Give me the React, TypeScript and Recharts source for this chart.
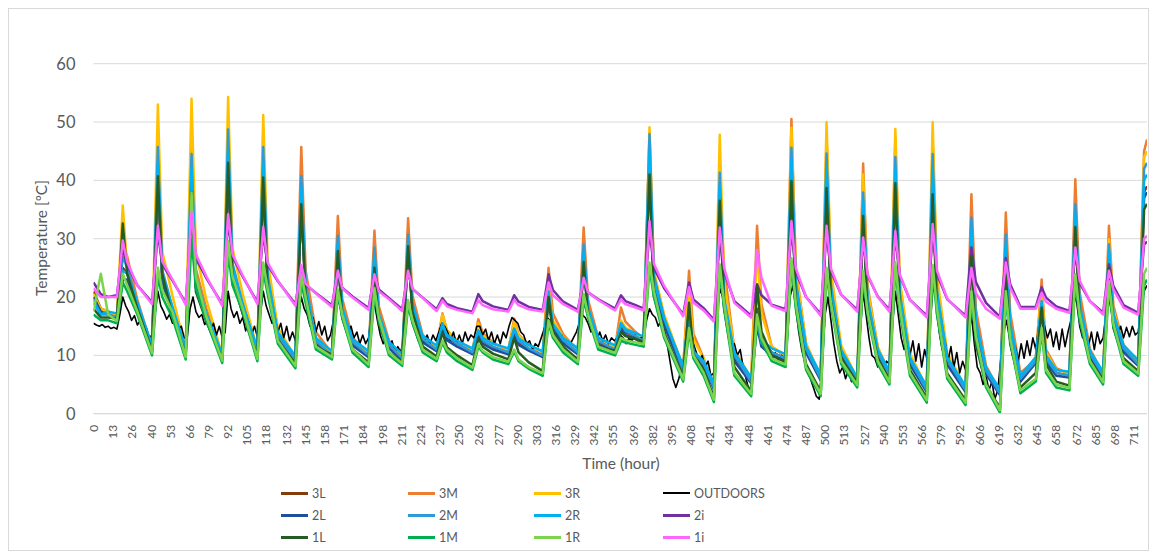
import { CartesianGrid, Line, LineChart, XAxis, YAxis } from 'recharts'

// Key hours of the sampled room series: start, then per day trough / peak / +3h / +10h.
const HOURS = [
  0, 5, 10,
  16, 20, 23, 30,
  40, 44, 47, 54,
  63, 67, 70, 77,
  88, 92, 95, 102,
  112, 116, 119, 126,
  138, 142, 145, 152,
  163, 167, 170, 177,
  188, 192, 195, 202,
  211, 215, 218, 225,
  234.5, 238.5, 241.5, 248.5,
  259, 263, 266, 273,
  283.5, 287.5, 290.5, 297.5,
  307, 311, 314, 321,
  331, 335, 338, 345,
  356.5, 360.5, 363.5, 370.5,
  376, 380, 383, 390,
  403, 407, 410, 417,
  424, 428, 431, 438,
  449.5, 453.5, 456.5, 463.5,
  473, 477, 480, 487,
  497, 501, 504, 511,
  522, 526, 529, 536,
  544, 548, 551, 558,
  569.5, 573.5, 576.5, 583.5,
  596, 600, 603, 610,
  619.5, 623.5, 626.5, 633.5,
  644, 648, 651, 658,
  667, 671, 674, 681,
  690, 694, 697, 704,
  714, 718, 720,
]

const T_3L = [
  21, 18, 17.5,
  16.5, 25, 24, 18.5, 11, 42, 23.1, 17.4, 10.5, 40, 21.7, 16.3, 9.5, 42, 23.1, 17.4,
  10.5, 40, 21.5, 12.9, 9.2, 36, 20.4, 12, 10, 27, 16.8, 12, 10, 26, 16.1, 11.5,
  9.5, 28, 17.8, 12.5, 11, 15, 13, 12, 10.5, 14, 12.5, 11.4, 10.5, 14, 12.2, 11,
  10, 20, 14.8, 12.4, 10.5, 26, 17, 12.2, 11, 15, 14, 13.2, 12.5, 43, 21.7, 15.3,
  7.5, 18, 10.6, 8.5, 4.5, 38, 18.5, 9.5, 5.5, 18, 12.9, 10.5, 9.5, 43, 21.5, 10.8,
  6, 42, 20.9, 10.2, 5.5, 36, 18.9, 10.4, 6.5, 41, 19.5, 8.8, 4, 41, 19.5, 9.3,
  4, 30, 14.6, 7.5, 3.5, 28, 14.5, 6, 9, 19, 9.5, 7, 6.5, 33, 17.6, 10.3,
  6.5, 27, 16.3, 10.8, 8.5, 38, 39,
]
const T_3M = [
  20, 18, 17.5,
  16.8, 29, 27, 19.5, 11.3, 40, 22.5, 17.2, 10.8, 47.3, 24.8, 18.1, 9.8, 43, 23.7, 17.9,
  10.8, 43, 22.9, 13.5, 9.5, 45.7, 24.5, 14, 10.3, 33.9, 19.7, 13, 10.3, 31.4, 18.4, 12.5,
  9.8, 33.5, 20.2, 13.5, 11.3, 17.2, 14.3, 12.5, 10.8, 16.2, 13.8, 12.2, 10.8, 16.3, 13.6, 11.8,
  10.3, 25, 17.2, 13.6, 10.8, 31.9, 19.5, 13, 11.3, 18.2, 15.8, 14, 12.8, 48.2, 24, 16.7,
  7.8, 24.5, 13.7, 9.5, 4.8, 38.7, 25, 11, 5.8, 32.2, 18.8, 11.5, 9.8, 50.5, 24.9, 12,
  6.3, 47.5, 23.3, 11.2, 5.8, 42.9, 22, 11.4, 6.8, 47.3, 22.4, 9.9, 4.3, 46.7, 22.1, 9.8,
  4.3, 37.6, 18, 8.2, 3.8, 34.5, 17.3, 7, 9.3, 23, 11, 7.8, 6.8, 40.2, 20.8, 11.1,
  6.8, 32.2, 18.6, 11.8, 8.8, 45, 47,
]
const T_3R = [
  20.5, 18, 17.5,
  17, 35.7, 25, 19, 11.5, 53, 27.8, 20.2, 11, 54, 27.6, 19.7, 10, 54.3, 28.3, 20.5,
  11, 51.2, 26.3, 14.7, 9.7, 38, 21.5, 13, 10.5, 28, 17.5, 12.5, 10.5, 27, 16.8, 12,
  10, 29, 18.5, 13, 11.5, 17, 14.3, 12.5, 11, 15.5, 13.5, 12, 11, 15.8, 13.4, 11.8,
  10.5, 22, 16, 13.2, 11, 27, 17.7, 12.5, 11.5, 16, 14.8, 13.6, 13, 49.1, 24.4, 17,
  8, 22, 12.7, 9.5, 5, 47.8, 22.7, 11, 6, 28, 17.2, 11.5, 10, 49, 24.4, 12,
  6.5, 50, 24.5, 11.7, 6, 41, 21.3, 11.4, 7, 48.8, 23.1, 10.3, 4.5, 50, 23.6, 10.4,
  4.5, 32, 15.8, 7.6, 4, 29, 15.1, 6.5, 9.5, 21.5, 10.5, 7.5, 7, 34, 18.3, 10.5,
  7, 29.9, 17.8, 11.5, 9, 44, 45,
]
const T_2L = [
  20, 17.5, 17,
  16.2, 23, 23, 18, 10.7, 41, 22.5, 17, 10.2, 40, 21.5, 16, 9.2, 42, 22.9, 17.2,
  10.2, 40, 21.3, 12.6, 8.9, 36, 20.2, 11.8, 9.7, 27, 16.6, 11.7, 9.7, 26, 15.9, 11.2,
  9.2, 28, 17.6, 12.2, 10.7, 14.5, 12.6, 11.5, 10.2, 13.5, 12, 11, 10.2, 13.5, 11.8, 10.8,
  9.7, 19.5, 14.4, 12, 10.2, 26, 16.8, 11.8, 10.7, 14.5, 13.5, 12.8, 12.2, 43, 21.5, 15.1,
  7.2, 16.5, 9.7, 8, 4.2, 37, 17.9, 9, 5.2, 15, 11.5, 10, 9.2, 42, 20.9, 10.4,
  5.7, 41, 20.2, 9.9, 5.2, 35, 18.3, 10, 6.2, 40, 18.9, 8.4, 3.7, 40, 18.9, 8.4,
  3.7, 30, 14.5, 6.8, 3.2, 27.5, 14, 5.5, 8.7, 18.5, 9, 6.5, 6.2, 32, 17, 9.8,
  6.2, 26.5, 15.9, 10.5, 8.2, 37, 38,
]
const T_2M = [
  19.5, 17, 17,
  16.5, 27, 25, 19, 11, 45.7, 24.6, 18.2, 10.5, 44.5, 23.5, 17.2, 9.5, 48.7, 25.8, 18.9,
  10.5, 45.7, 23.8, 13.5, 9.2, 40.7, 22.3, 12.5, 10, 30.5, 18.2, 12.3, 10, 28.5, 17.1, 11.8,
  9.5, 30.7, 18.9, 12.8, 11, 15.5, 13.3, 12, 10.5, 14.2, 12.6, 11.5, 10.5, 14.5, 12.5, 11.2,
  10, 21, 15.2, 12.6, 10.5, 29, 18.2, 12.5, 11, 15.5, 14.2, 13.3, 12.5, 47.9, 23.7, 16.4,
  7.5, 18, 10.6, 8.5, 4.5, 41.3, 19.8, 10, 5.5, 16, 12.1, 10.5, 9.5, 45.6, 22.6, 11.1,
  6, 44.6, 21.9, 10.6, 5.5, 37.9, 19.7, 10.6, 6.5, 44, 20.8, 9.2, 4, 44.5, 21, 9.3,
  4, 33.6, 16.1, 7.4, 3.5, 30.7, 15.5, 6, 9, 19.3, 9.5, 7, 6.5, 35.9, 18.8, 10.3,
  6.5, 29, 17.1, 11.2, 8.5, 42, 43,
]
const T_2R = [
  19, 17, 17.5,
  17.2, 24.5, 24, 19, 11.7, 43, 23.9, 18.2, 11.2, 42, 22.9, 17.2, 10.2, 45, 24.7, 18.6,
  11.2, 43, 23.1, 13.9, 9.9, 38.5, 21.8, 13, 10.7, 29, 18, 12.8, 10.7, 27, 16.9, 12.3,
  10.2, 29, 18.6, 13.3, 11.7, 15.3, 13.5, 12.5, 11.2, 14.3, 13, 12, 11.2, 14.6, 12.9, 11.8,
  10.7, 20.5, 15.4, 13, 11.2, 27.5, 18, 13, 11.7, 15.5, 14.5, 13.8, 13.2, 45, 22.9, 16.3,
  8.2, 17.5, 10.7, 9, 5.2, 39, 19.3, 10.5, 6.2, 16.5, 12.7, 11.2, 10.2, 43.5, 22.2, 11.5,
  6.7, 42.5, 21.4, 10.9, 6.2, 36.5, 19.5, 11, 7.2, 42, 20.4, 9.6, 4.7, 42, 20.4, 9.6,
  4.7, 31.5, 15.7, 7.8, 4.2, 29, 15.2, 6.5, 9.7, 19, 10, 7.5, 7.2, 34, 18.5, 10.7,
  7.2, 28, 17.1, 11.7, 9.2, 40, 41,
]
const T_2i = [
  22.5, 20.5, 20,
  20.3, 28.5, 25.5, 22, 19.1, 31, 25.6, 22.8, 19, 33, 26.6, 23.3, 18.8, 33, 26.9, 23.5,
  19.1, 31, 25.5, 22.7, 18.8, 25, 22.1, 20.7, 18.6, 24.5, 21.6, 20.1, 18.1, 24, 21.3, 19.8,
  17.9, 24.3, 21.4, 19.9, 17.9, 19.8, 18.8, 18.1, 17.5, 20.5, 19.3, 18.4, 17.8, 20.3, 19.2, 18.3,
  17.8, 23.9, 21.2, 19.2, 17.8, 23, 20.8, 19.6, 18, 20.3, 19.3, 18.6, 18, 31.5, 25, 21.5,
  17, 22.5, 19.6, 18.1, 16.1, 30.5, 24.3, 19.3, 16.8, 22.2, 20.3, 18.7, 17.9, 31.5, 24.3, 20,
  17.1, 31, 24.4, 20.4, 17.8, 29.5, 23.7, 20.1, 17.8, 30.5, 23.7, 19.5, 16.8, 31, 23.9, 19.6,
  16.8, 28.5, 22.6, 19, 16.6, 26.7, 22.2, 18.3, 18.3, 21.7, 19.9, 18.4, 17.6, 27.5, 22.4, 19.3,
  17.3, 25.6, 21.9, 18.6, 17.3, 29, 29.5,
]
const T_1L = [
  18, 16.5, 16.5,
  16.3, 32.6, 24, 18, 10.8, 40.7, 23.9, 16.8, 10.1, 38, 20.9, 15.9, 9.5, 43, 23.1, 17.1,
  9.8, 40.5, 21.4, 12.4, 8.6, 35.9, 20.4, 11.5, 10.1, 27.9, 16.4, 11, 8.8, 25, 15.4, 10.5,
  9, 28.7, 17.4, 11.5, 9.8, 14, 11.4, 10, 8.3, 13, 11.5, 10.3, 9.3, 13, 10.5, 8.8,
  7.3, 20, 14.1, 11.5, 9.3, 26, 16.9, 11.5, 10.8, 14, 13.3, 12.8, 12.3, 41, 20.2, 13.9,
  6.3, 19, 10.1, 7.5, 2.8, 36.5, 18.5, 8, 3.8, 22, 14.1, 10, 8.8, 39.9, 19, 8.5,
  3.8, 38.7, 19.3, 9.6, 5.3, 33.9, 17.6, 9.5, 5.8, 39.5, 18.2, 7.5, 2.7, 37.6, 17.1, 6.9,
  2.3, 27, 11.9, 4.9, 1, 24, 12, 4.5, 7, 18.2, 8.5, 5.5, 4.8, 32, 16.8, 9.2,
  5.8, 25, 14.7, 9.5, 7.3, 35, 36,
]
const T_1M = [
  17, 16, 16,
  15.5, 22.5, 21, 17, 10, 23.5, 20, 16.4, 9.3, 30, 21.5, 16, 8.7, 27.5, 22, 17.5,
  9, 24.5, 20.5, 12, 7.8, 22.5, 19, 11, 9.3, 20.5, 16.5, 10.5, 8, 20.5, 16, 10,
  8.2, 18.5, 15.5, 10.5, 9, 12.2, 10.5, 9, 7.5, 11.5, 10.5, 9.3, 8.5, 10.7, 9, 7.7,
  6.5, 15.5, 13, 10.5, 8.5, 19.5, 16.5, 11, 10, 12.5, 12.2, 11.8, 11.5, 25, 20, 13,
  5.5, 14, 9.5, 6.5, 2, 24.5, 18, 6.5, 3, 16.5, 12.5, 9, 8, 25.5, 18, 7.5,
  3, 24, 18.5, 8.5, 4.5, 23.5, 17, 8.5, 5, 25, 17.5, 6.5, 1.9, 24.5, 17, 6,
  1.5, 20, 13, 4.5, 0.2, 20, 12.5, 3.5, 5.5, 14, 7, 4.5, 4, 23, 16, 8.5,
  5, 22, 15, 8.5, 6.5, 22, 23,
]
const T_1R = [
  17.5, 24, 17,
  15.9, 24, 22, 17.5, 10.4, 25, 21.2, 17.4, 9.7, 37.9, 23.5, 16.7, 9.1, 29.6, 23.5, 18,
  9.4, 25.9, 21.5, 12.5, 8.2, 23.9, 20, 11.5, 9.7, 21.3, 17, 11, 8.4, 21.5, 16.5, 10.5,
  8.6, 19.5, 16, 11, 9.4, 12.5, 11, 9.5, 7.9, 11.9, 10.8, 9.7, 8.9, 11, 9.3, 8,
  6.9, 16, 13.5, 11, 8.9, 20.5, 17, 11.5, 10.4, 13, 12.6, 12.2, 11.9, 25.9, 21, 13.5,
  5.9, 14.7, 10, 7, 2.4, 25.6, 19, 7, 3.4, 17, 13, 9.5, 8.4, 26.7, 19, 8,
  3.4, 25, 19, 9, 4.9, 24.5, 17.5, 9, 5.4, 26, 18.5, 7, 2.3, 25.5, 18, 6.5,
  1.9, 21, 13.5, 5, 0.6, 21, 13, 4, 6, 14.7, 7.5, 5, 4.4, 23.9, 17, 9,
  5.4, 22.7, 15.5, 9, 6.9, 24, 25,
]
const T_1i = [
  21.5, 20, 20,
  20, 29.7, 26, 22, 18.8, 32.2, 26.1, 23, 18.7, 34.5, 27.3, 23.6, 18.5, 34.2, 27.3, 23.7,
  18.8, 32, 25.9, 22.8, 18.5, 25.5, 22.3, 20.6, 18.3, 24.5, 21.5, 19.9, 17.8, 23.9, 21, 19.6,
  17.6, 24.5, 21.4, 19.8, 17.6, 19.4, 18.4, 17.8, 17.2, 19.5, 18.6, 17.9, 17.5, 19.5, 18.6, 17.9,
  17.5, 22.5, 20.3, 18.8, 17.5, 23.3, 20.8, 19.5, 17.7, 19.6, 18.8, 18.2, 17.7, 33, 25.7, 21.9,
  16.7, 21.7, 19, 17.7, 15.8, 31.9, 25, 19, 16.5, 27.9, 23.3, 18.5, 17.6, 33, 24.9, 20,
  16.8, 32.2, 24.9, 20.4, 17.5, 30.2, 23.9, 20, 17.5, 31.3, 23.9, 19.5, 16.5, 32.5, 24.5, 19.7,
  16.5, 25, 20.7, 18, 16.3, 25.9, 21.6, 18, 18, 20.7, 19.2, 18, 17.3, 28.5, 22.8, 19.3,
  17, 24.5, 21.3, 18.2, 17, 30, 30.5,
]

// Outdoor air, one reading every 2 hours (12 per row = one day).
const OUTDOORS = [
  15.5, 15.2, 15, 15.3, 14.8, 15, 14.6, 14.8, 14.5, 17, 20, 18.5,
  17.5, 16, 16.8, 15.2, 16, 14.2, 14.8, 13, 13.5, 17, 21, 18.5,
  17.5, 16.2, 17, 15.5, 16.2, 14.5, 15, 13, 12.8, 18, 20, 17.5,
  16.5, 17, 15.3, 16, 14.2, 15.5, 13.5, 15, 13, 14, 21, 18,
  16.5, 17.5, 15.5, 16.5, 14.2, 15.8, 13.5, 15, 13.2, 17, 21, 18.5,
  17, 15.5, 16.5, 14, 15.5, 13, 15, 12.5, 14, 12.5, 17, 20,
  18, 17, 15, 16.5, 14, 15.8, 13.5, 15, 12.5, 13.5, 16, 19,
  19, 16.5, 15, 14, 15, 13, 14, 12, 13.5, 12, 13, 17,
  19, 16, 13.5, 12, 13, 11, 12.5, 10.5, 11.5, 10.5, 13, 18,
  18, 15.5, 14, 12.5, 13.5, 12, 13.5, 12, 13.5, 12.5, 14, 15.5,
  15, 14, 12.5, 14, 12, 13.5, 12, 14, 12.5, 13.5, 13, 15,
  15, 13.5, 14.5, 12.5, 14, 12, 13.5, 12, 14, 13, 15, 16.5,
  16, 15.5, 14, 13.5, 12, 12.5, 11, 12, 11.5, 13, 14.5, 16.5,
  16, 14, 14.5, 13, 13.5, 12, 12.5, 12, 13, 14, 15.5, 17,
  16.5, 15.5, 14, 14.5, 12.5, 14, 12.5, 13.5, 12, 13, 12.5, 13,
  13.5, 13, 12, 13, 12.5, 13.5, 12.5, 13, 13, 16, 18, 17,
  16.5, 15, 16, 14.5, 12, 9, 6, 4.5, 6, 8, 10, 14,
  15, 12, 10.5, 9, 10, 8, 9, 6.5, 7, 16, 21.5, 20,
  16, 13, 11.5, 12, 10, 11, 8, 6, 4, 5, 14, 17,
  14, 12, 10.5, 11, 9.5, 10.5, 9, 10, 9.5, 12, 20, 22,
  18, 14, 11, 9, 7, 6, 4.5, 3, 2.5, 8, 17, 20,
  16, 12, 9, 7, 8, 6, 7.5, 5.5, 6.5, 6, 14, 21,
  17, 13, 10, 9.5, 8, 9.5, 8, 9, 8.5, 15, 21, 17,
  13, 11, 12.5, 10, 12.5, 9, 12, 8, 11, 9, 16, 22.5,
  19, 14, 11, 12.5, 9, 11.5, 8, 10.5, 7, 9, 7.5, 13,
  17, 12, 8, 7, 5, 6.5, 4, 5.5, 2.5, 4, 9, 14,
  16, 13, 10, 11.5, 9, 12, 9.5, 12.5, 10, 13, 11, 15,
  17, 15, 13, 14.5, 11.5, 14, 11, 14.5, 11.5, 14, 16, 20.5,
  19, 15, 13, 14.5, 11.5, 14, 11, 14, 12, 13, 17, 20,
  17, 15, 13.5, 15, 13, 14.8, 13.2, 15, 13.5, 14, 18, 21,
  22,
]

const X_TICKS = [
  0, 13, 26, 40, 53, 66, 79, 92, 105, 118, 132, 145, 158, 171, 184, 198, 211, 224,
  237, 250, 263, 277, 290, 303, 316, 329, 342, 355, 369, 382, 395, 408, 421, 434,
  448, 461, 474, 487, 500, 513, 527, 540, 553, 566, 579, 592, 606, 619, 632, 645,
  658, 672, 685, 698, 711,
]
const Y_TICKS = [0, 10, 20, 30, 40, 50, 60]

// Drawing order follows the legend, so 1i ends up on top.
const SERIES = [
  { name: '3L', color: '#843C0C', values: T_3L },
  { name: '3M', color: '#ED7D31', values: T_3M },
  { name: '3R', color: '#FFC000', values: T_3R },
  { name: 'OUTDOORS', color: '#000000', values: OUTDOORS },
  { name: '2L', color: '#1F4E9A', values: T_2L },
  { name: '2M', color: '#2E9AD8', values: T_2M },
  { name: '2R', color: '#00B0F0', values: T_2R },
  { name: '2i', color: '#7030A0', values: T_2i },
  { name: '1L', color: '#265C24', values: T_1L },
  { name: '1M', color: '#00B050', values: T_1M },
  { name: '1R', color: '#7CD44E', values: T_1R },
  { name: '1i', color: '#FF66FF', values: T_1i },
]

const GREY = '#595959'
const FONT = 'Lato, "Open Sans", sans-serif'

function toRows(name: string, values: number[]) {
  if (name === 'OUTDOORS') return values.map((v, i) => ({ h: i * 2, v }))
  return values.map((v, i) => ({ h: HOURS[i], v }))
}

function XTick({ x, y, payload }: { x?: number; y?: number; payload?: { value: number } }) {
  const yy = (y ?? 0) + 3
  return (
    <text
      x={x}
      y={yy}
      transform={`rotate(-90 ${x} ${yy})`}
      textAnchor="end"
      dy="0.35em"
      fill={GREY}
      fontSize={12}
      fontFamily={FONT}
    >
      {payload?.value}
    </text>
  )
}

function Legend() {
  const cols = [272, 399, 525, 654]
  const rows = [484, 506, 528]
  return (
    <>
      {SERIES.map((s, i) => {
        const col = i % 4
        const row = Math.floor(i / 4)
        return (
          <div
            key={s.name}
            style={{
              position: 'absolute',
              left: cols[col],
              top: rows[row] - 8,
              height: 16,
              display: 'flex',
              alignItems: 'center',
              gap: 4,
              fontSize: 12.5,
              color: GREY,
            }}
          >
            <span
              style={{
                display: 'inline-block',
                width: 27,
                height: s.name === 'OUTDOORS' ? 1.5 : 3,
                backgroundColor: s.color,
              }}
            />
            <span>{s.name}</span>
          </div>
        )
      })}
    </>
  )
}

export default function App() {
  return (
    <div
      style={{
        position: 'relative',
        width: 1141,
        height: 543,
        border: '1px solid #D9D9D9',
        boxSizing: 'border-box',
        fontFamily: FONT,
        background: '#FFFFFF',
      }}
    >
      <LineChart
        width={1140}
        height={480}
        margin={{ top: 54.7, right: 2, bottom: 25.3, left: 24.5 }}
      >
        <CartesianGrid vertical={false} stroke="#D9D9D9" />
        <XAxis
          dataKey="h"
          type="number"
          domain={[0, 720]}
          ticks={X_TICKS}
          interval={0}
          height={50}
          tick={<XTick />}
          tickLine={false}
          axisLine={{ stroke: '#D9D9D9' }}
          allowDataOverflow
        />
        <YAxis
          type="number"
          domain={[0, 60]}
          ticks={Y_TICKS}
          width={60}
          tickLine={false}
          axisLine={false}
          tickSize={6}
          tickMargin={12}
          tick={{ fill: GREY, fontSize: 16.5, fontFamily: FONT }}
        />
        {SERIES.map((s) => (
          <Line
            key={s.name}
            data={toRows(s.name, s.values)}
            dataKey="v"
            name={s.name}
            type="linear"
            stroke={s.color}
            strokeWidth={s.name === 'OUTDOORS' ? 1.6 : 2.5}
            strokeLinejoin="round"
            dot={false}
            activeDot={false}
            isAnimationActive={false}
          />
        ))}
      </LineChart>
      <div
        style={{
          position: 'absolute',
          left: 32,
          top: 229,
          transform: 'translate(-50%, -50%) rotate(-90deg)',
          whiteSpace: 'nowrap',
          fontSize: 15.5,
          color: GREY,
        }}
      >
        Temperature [ºC]
      </div>
      <div
        style={{
          position: 'absolute',
          left: 612,
          top: 454,
          transform: 'translate(-50%, -50%)',
          whiteSpace: 'nowrap',
          fontSize: 15.5,
          color: GREY,
        }}
      >
        Time (hour)
      </div>
      <Legend />
    </div>
  )
}
